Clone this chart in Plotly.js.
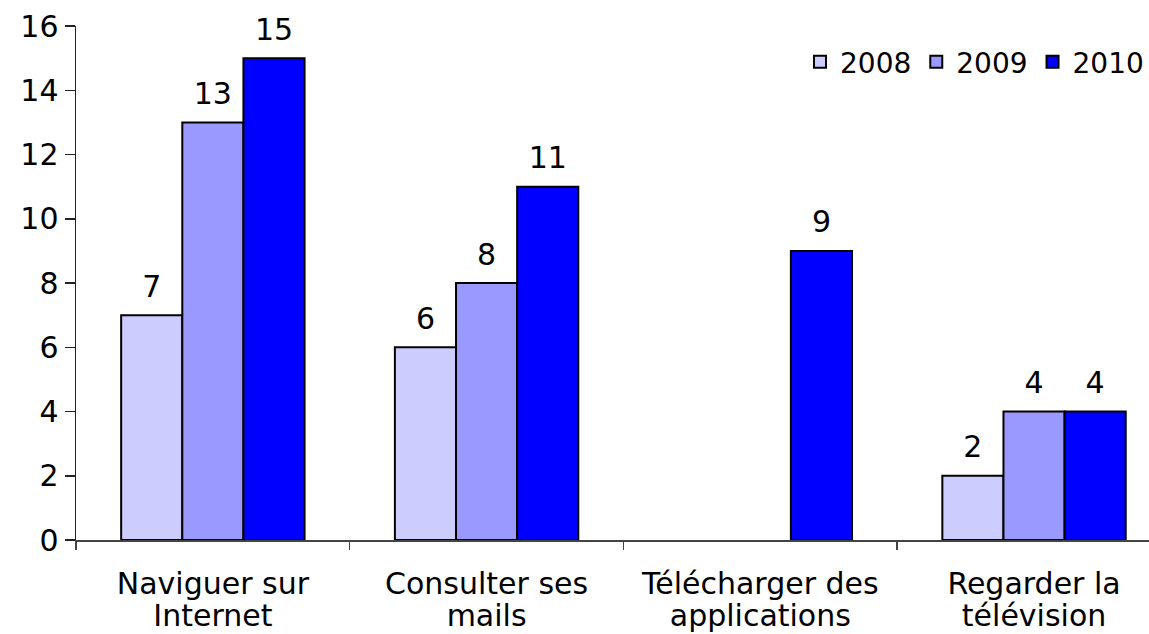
<!DOCTYPE html>
<html>
<head>
<meta charset="utf-8">
<script src="https://cdn.plot.ly/plotly-3.0.1.min.js"></script>
<style>html,body{margin:0;padding:0;background:#fff;}#chart{width:1149px;height:634px;}</style>
</head>
<body>
<div id="chart"></div>
<script>
const categories = ["Naviguer sur Internet", "Consulter ses mails", "Télécharger des applications", "Regarder la télévision"];
const labelLine1 = ["Naviguer sur", "Consulter ses", "Télécharger des", "Regarder la"];
const labelLine2 = ["Internet", "mails", "applications", "télévision"];
const seriesNames = ["2008", "2009", "2010"];
const values2008 = [7, 6, null, 2];
const values2009 = [13, 8, null, 4];
const values2010 = [15, 11, 9, 4];
const colors = ["#CCCCFF", "#9999FF", "#0000FF"];
const yTicks = [0, 2, 4, 6, 8, 10, 12, 14, 16];

const FONT = "DejaVu Sans, Verdana, sans-serif";
const FS = 30;
const allValues = [values2008, values2009, values2010];
const barTraces = allValues.map((vals, i) => ({
  type: "bar",
  name: seriesNames[i],
  x: categories,
  y: vals,
  offsetgroup: String(i),
  marker: {color: colors[i], line: {color: "#000", width: 2}}
}));
const labelTraces = allValues.map((vals, i) => ({
  type: "scatter",
  mode: "markers+text",
  showlegend: false,
  x: categories,
  y: vals,
  offsetgroup: String(i),
  text: vals.map(v => v === null ? "" : String(v)),
  textposition: "top center",
  cliponaxis: false,
  marker: {size: 16, color: "rgba(0,0,0,0)"},
  textfont: {family: FONT, size: FS, color: "#000"}
}));
// carrier for the second line of the category labels
const secondLineTrace = {
  type: "scatter", mode: "markers", showlegend: false,
  x: categories, y: categories.map(() => null),
  xaxis: "x2", yaxis: "y",
  marker: {color: "rgba(0,0,0,0)"}
};

const layout = {
  width: 1149, height: 634,
  margin: {l: 76, r: 0, t: 26, b: 94},
  paper_bgcolor: "#fff", plot_bgcolor: "#fff",
  font: {family: FONT, size: FS, color: "#000"},
  barmode: "group",
  scattermode: "group",
  bargap: 0.33,
  bargroupgap: 0,
  scattergap: 0.33,
  showlegend: true,
  legend: {orientation: "h", x: 1, xanchor: "right", y: 0.93, yanchor: "middle",
           font: {family: FONT, size: 28, color: "#000"}, itemwidth: 30, tracegroupgap: 0,
           bgcolor: "rgba(0,0,0,0)"},
  xaxis: {
    type: "category",
    range: [-0.5, 3.42],
    tickmode: "array", tickvals: categories, ticktext: labelLine1,
    showline: true, linecolor: "#444", linewidth: 1.5,
    ticks: "outside", tickson: "boundaries", ticklen: 8, tickcolor: "#444", tickwidth: 1.5,
    ticklabelstandoff: 16,
    showgrid: false, zeroline: false,
    tickfont: {family: FONT, size: FS, color: "#000"}
  },
  xaxis2: {
    type: "category",
    overlaying: "x", anchor: "y", side: "bottom",
    range: [-0.5, 3.42],
    categoryorder: "array", categoryarray: categories,
    tickmode: "array", tickvals: categories, ticktext: labelLine2,
    showline: false, ticks: "", ticklabelstandoff: 55,
    showgrid: false, zeroline: false,
    tickfont: {family: FONT, size: FS, color: "#000"}
  },
  yaxis: {
    range: [0, 16],
    tickvals: yTicks,
    ticktext: yTicks.map(String),
    showline: true, linecolor: "#222", linewidth: 1.5,
    ticks: "outside", ticklen: 10, tickcolor: "#222", tickwidth: 1.5,
    showgrid: false, zeroline: false,
    tickfont: {family: FONT, size: FS, color: "#000"}
  }
};

Plotly.newPlot("chart", barTraces.concat(labelTraces, [secondLineTrace]), layout, {displayModeBar: false, staticPlot: true});
</script>
</body>
</html>
